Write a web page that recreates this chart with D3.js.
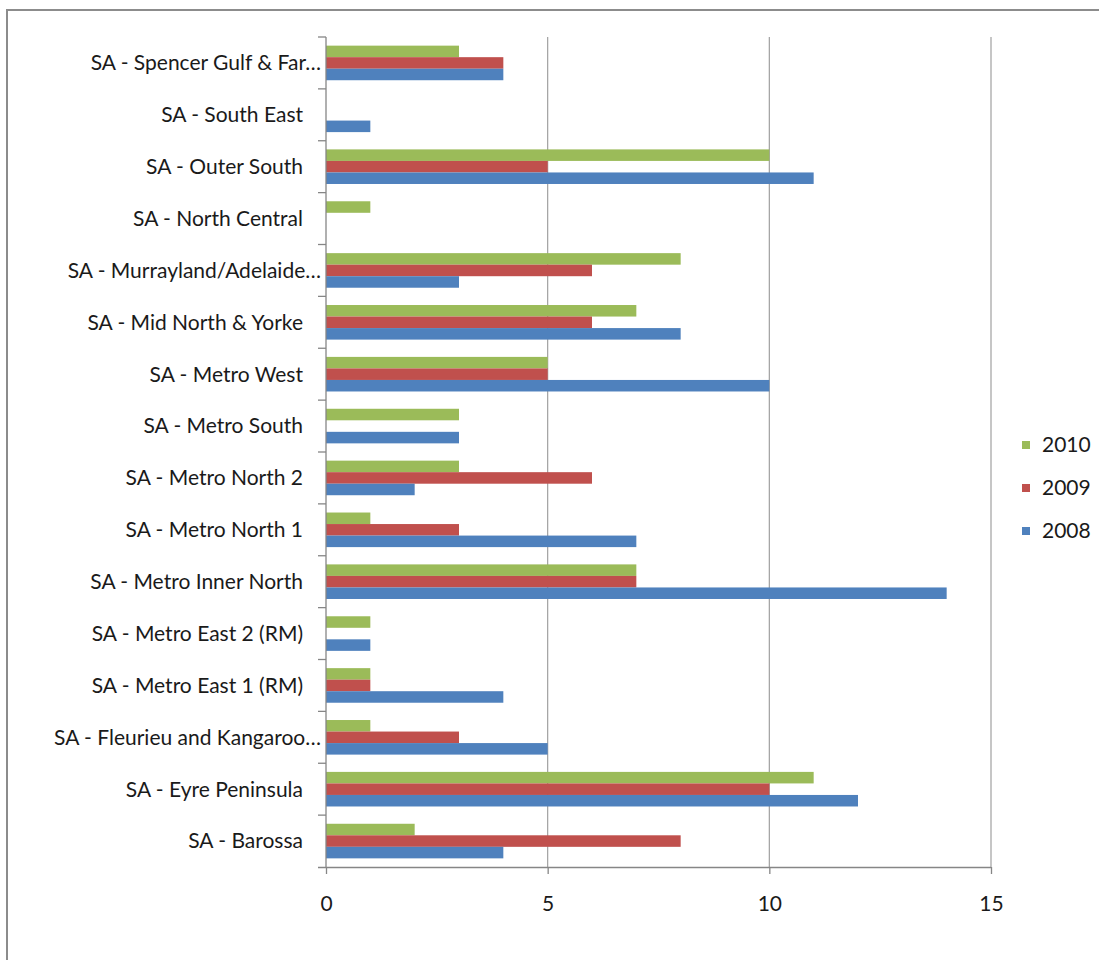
<!DOCTYPE html>
<html><head><meta charset="utf-8">
<script src="https://cdn.jsdelivr.net/npm/d3@7"></script>
<style>
html,body{margin:0;padding:0;background:#fff;}
svg{display:block;font-family:Lato, "Open Sans", sans-serif;}
</style></head>
<body>
<svg id="chart" width="1099" height="960"></svg>
<script>
const categories = [
  "SA - Spencer Gulf & Far…",
  "SA - South East",
  "SA - Outer South",
  "SA - North Central",
  "SA - Murrayland/Adelaide…",
  "SA - Mid North & Yorke",
  "SA - Metro West",
  "SA - Metro South",
  "SA - Metro North 2",
  "SA - Metro North 1",
  "SA - Metro Inner North",
  "SA - Metro East 2 (RM)",
  "SA - Metro East 1 (RM)",
  "SA - Fleurieu and Kangaroo…",
  "SA - Eyre Peninsula",
  "SA - Barossa"
];
const seriesNames = ["2010", "2009", "2008"];
const values2010 = [3, 0, 10, 1, 8, 7, 5, 3, 3, 1, 7, 1, 1, 1, 11, 2];
const values2009 = [4, 0, 5, 0, 6, 6, 5, 0, 6, 3, 7, 0, 1, 3, 10, 8];
const values2008 = [4, 1, 11, 0, 3, 8, 10, 3, 2, 7, 14, 1, 4, 5, 12, 4];
const xTicks = [0, 5, 10, 15];
const colors = {"2010": "#9BBB59", "2009": "#C0504D", "2008": "#4F81BD"};

const seriesValues = {"2010": values2010, "2009": values2009, "2008": values2008};

const svg = d3.select("#chart");
// outer chart border
svg.append("rect").attr("x", 7).attr("y", 10).attr("width", 1200).attr("height", 1100)
  .attr("fill", "none").attr("stroke", "#8c8c8c").attr("stroke-width", 2);

const pLeft = 326, pRight = 991, pTop = 37, pBottom = 867;
const x = d3.scaleLinear().domain([0, 15]).range([pLeft, pRight]);
const y = d3.scaleBand().domain(categories).range([pTop, pBottom]).padding(0);
const yi = d3.scaleBand().domain(seriesNames).range([0, y.bandwidth()]).paddingInner(0).paddingOuter(0.75);

// gridlines
svg.append("g").selectAll("line").data(xTicks.filter(d => d > 0)).join("line")
  .attr("x1", d => x(d)).attr("x2", d => x(d)).attr("y1", pTop).attr("y2", pBottom)
  .attr("stroke", "#a0a0a0").attr("stroke-width", 1.2);

// bars
const rows = [];
categories.forEach((c, i) => seriesNames.forEach(s => rows.push({c, s, v: seriesValues[s][i]})));
svg.append("g").selectAll("rect").data(rows.filter(d => d.v > 0)).join("rect")
  .attr("x", x(0)).attr("y", d => y(d.c) + yi(d.s))
  .attr("width", d => x(d.v) - x(0)).attr("height", yi.bandwidth())
  .attr("fill", d => colors[d.s]);

// x axis
const xAxis = svg.append("g").attr("transform", `translate(0,${pBottom})`)
  .call(d3.axisBottom(x).tickValues(xTicks).tickSize(7).tickPadding(22).tickSizeOuter(0));
xAxis.select(".domain").attr("stroke", "#868686").attr("stroke-width", 1.3)
  .attr("d", `M${pLeft - 8},0.5H${pRight}`);
xAxis.selectAll(".tick line").attr("stroke", "#868686").attr("stroke-width", 1.3);
xAxis.selectAll(".tick text").attr("font-size", 21).attr("fill", "#1a1a1a").attr("font-family", "Lato, 'Open Sans', sans-serif");

// y axis line and tick marks between categories
const yg = svg.append("g");
yg.append("line").attr("x1", pLeft).attr("x2", pLeft).attr("y1", pTop).attr("y2", pBottom)
  .attr("stroke", "#868686").attr("stroke-width", 1.3);
const boundaries = categories.map(c => y(c));
yg.selectAll("line.t").data(boundaries).join("line").attr("class", "t")
  .attr("x1", pLeft - 8).attr("x2", pLeft).attr("y1", d => d).attr("y2", d => d)
  .attr("stroke", "#868686").attr("stroke-width", 1.3);

// category labels
yg.selectAll("text").data(categories).join("text")
  .attr("x", d => d.endsWith("…") ? 321 : 303)
  .attr("y", d => y(d) + y.bandwidth() / 2)
  .attr("dy", "0.35em").attr("text-anchor", "end")
  .attr("font-size", 21).attr("fill", "#1a1a1a")
  .text(d => d);

// legend
const lg = svg.append("g").selectAll("g").data(seriesNames).join("g")
  .attr("transform", (d, i) => `translate(1022,${445 + i * 43})`);
lg.append("rect").attr("x", 0).attr("y", -4).attr("width", 8).attr("height", 8)
  .attr("fill", d => colors[d]);
lg.append("text").attr("x", 20).attr("y", 0).attr("dy", "0.35em")
  .attr("font-size", 21).attr("fill", "#1a1a1a").text(d => d);
</script>
</body></html>
